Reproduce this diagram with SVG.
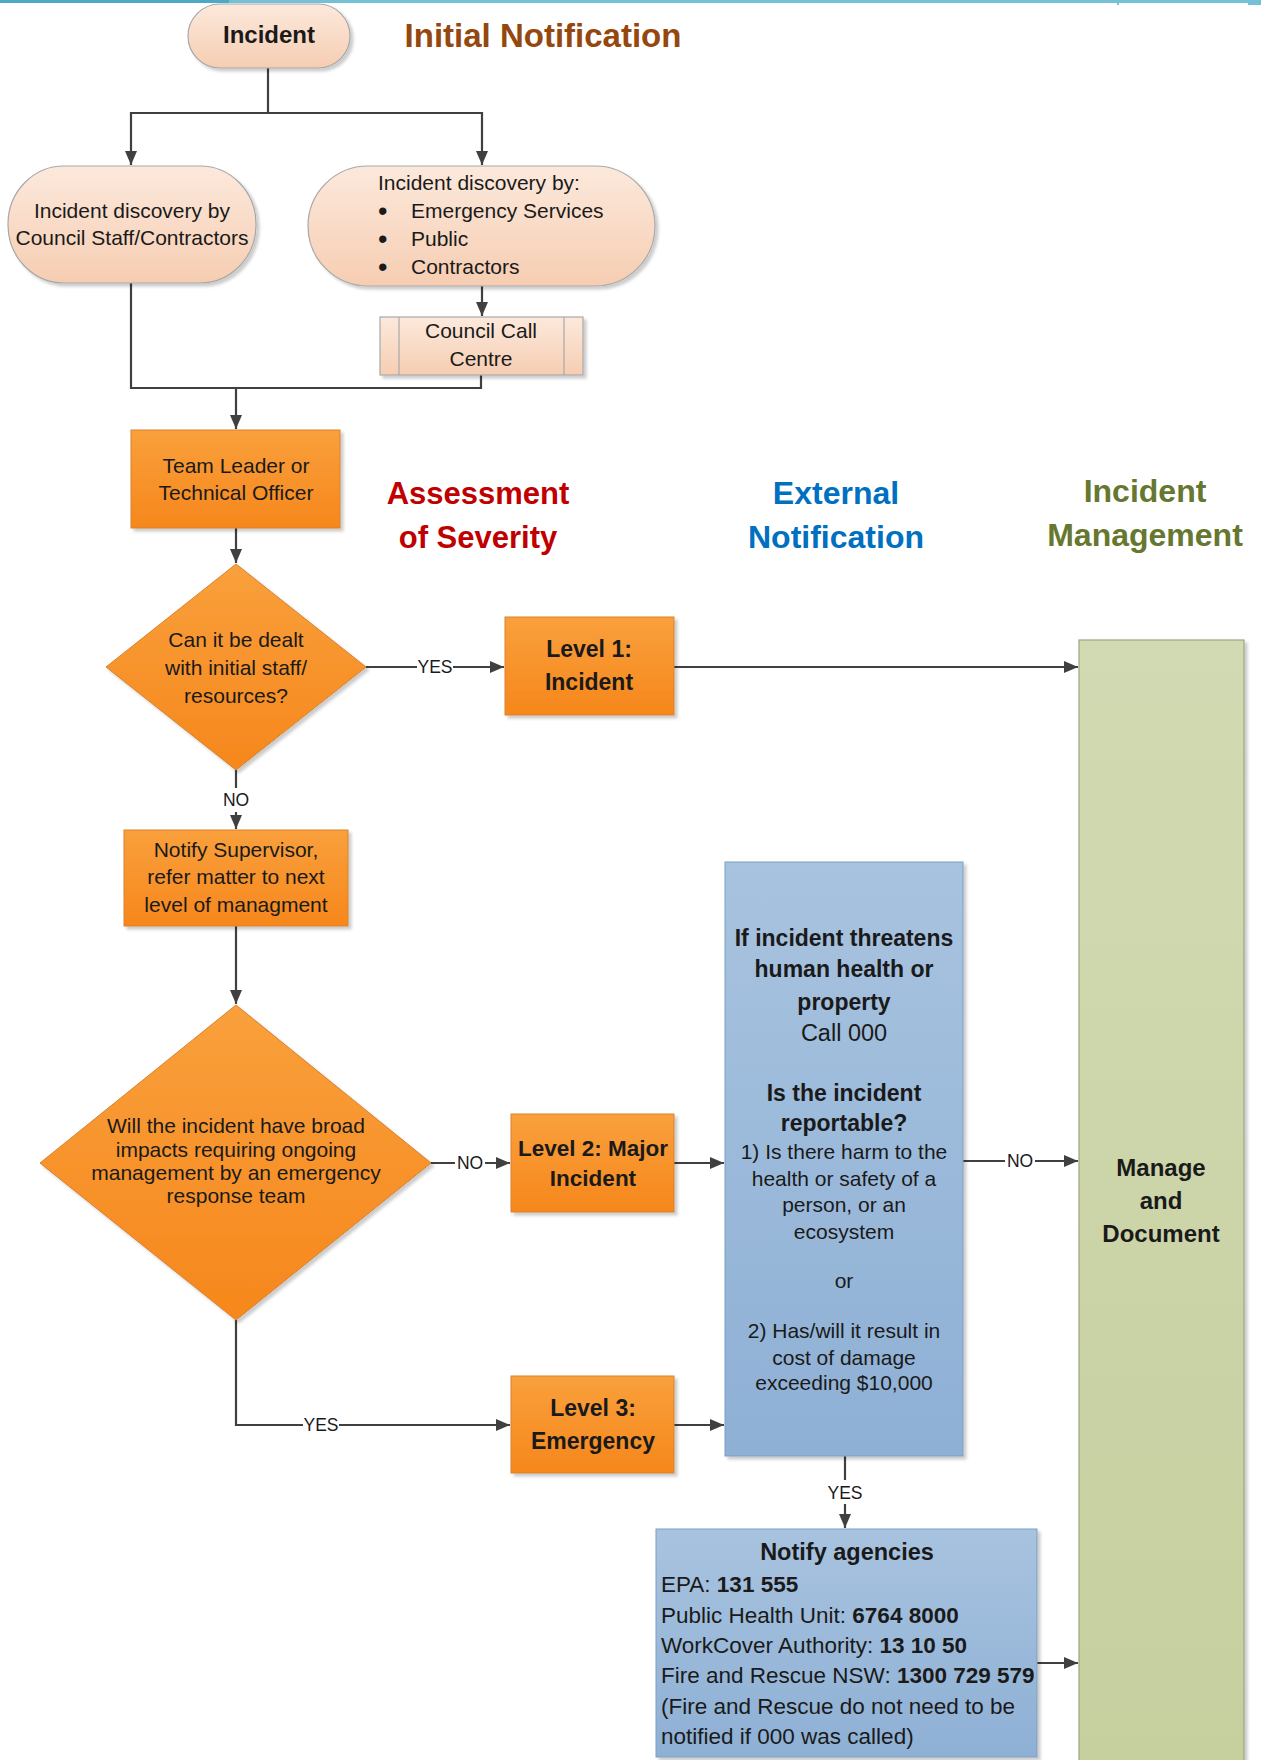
<svg xmlns="http://www.w3.org/2000/svg" width="1261" height="1760" viewBox="0 0 1261 1760">
<defs>
<style>
.t{font-family:"Liberation Sans",Arial,sans-serif;fill:#1a1a1a;font-size:21px}
.c{text-anchor:middle}
.b{font-weight:bold}
.bul{font-size:27px}
.h{font-family:"Liberation Sans",Arial,sans-serif;font-weight:bold;font-size:32px;text-anchor:middle}
.ln{fill:none;stroke:#404040;stroke-width:2.2}
.arr{marker-end:url(#ah)}
.lbl{font-family:"Liberation Sans",Arial,sans-serif;font-size:17.5px;fill:#1a1a1a;text-anchor:middle}
.orange{fill:url(#gOrange);stroke:#d8812e;stroke-width:1}
.peach{fill:url(#gPeach);stroke:#a8a8a8;stroke-width:1.2}
.sh{filter:url(#shadow)}
</style>
<linearGradient id="gOrange" x1="0" y1="0" x2="0" y2="1">
<stop offset="0" stop-color="#F9A03C"/><stop offset="1" stop-color="#F6871C"/>
</linearGradient>
<linearGradient id="gPeach" x1="0" y1="0" x2="0" y2="1">
<stop offset="0" stop-color="#FCE9DC"/><stop offset="1" stop-color="#F6CDB2"/>
</linearGradient>
<linearGradient id="gBlue" x1="0" y1="0" x2="0" y2="1">
<stop offset="0" stop-color="#A8C3DF"/><stop offset="1" stop-color="#8EB0D5"/>
</linearGradient>
<linearGradient id="gGreen" x1="0" y1="0" x2="0" y2="1">
<stop offset="0" stop-color="#D2DAB3"/><stop offset="1" stop-color="#C6CF9E"/>
</linearGradient>
<filter id="shadow" x="-10%" y="-10%" width="125%" height="125%">
<feDropShadow dx="3" dy="3" stdDeviation="1.5" flood-color="#000" flood-opacity="0.2"/>
</filter>
<marker id="ah" markerUnits="userSpaceOnUse" markerWidth="14" markerHeight="12" refX="14" refY="6" orient="auto">
<path d="M0,0 L14,6 L0,12 z" fill="#404040"/>
</marker>
</defs>
<rect width="1261" height="1760" fill="#ffffff"/>

<g id="topline">
<rect x="0" y="0" width="1261" height="3" fill="#74c1d6"/>
<rect x="0" y="0" width="229" height="3" fill="#4ea9c6"/>
<rect x="1117" y="0" width="2" height="5" fill="#74c1d6"/>
<rect x="1248" y="0" width="13" height="5" fill="#74c1d6"/>
</g>

<g id="headings">
<text class="h" x="543" y="47" fill="#94480F" style="font-size:33px">Initial Notification</text>
<text class="h" x="478" y="504" fill="#C00000" style="font-size:31px">Assessment</text>
<text class="h" x="478" y="548" fill="#C00000" style="font-size:31px">of Severity</text>
<text class="h" x="836" y="504" fill="#0070C0">External</text>
<text class="h" x="836" y="548" fill="#0070C0">Notification</text>
<text class="h" x="1145" y="502" fill="#66772F">Incident</text>
<text class="h" x="1145" y="546" fill="#66772F">Management</text>
</g>

<g id="connectors">
<path class="ln arr" d="M268,68 V113 H131 V165"/>
<path class="ln arr" d="M268,113 H482 V165"/>
<path class="ln arr" d="M482,286 V316"/>
<path class="ln arr" d="M131,283 V388 H236 V429"/>
<path class="ln" d="M481,375 V388 H236"/>
<path class="ln arr" d="M236,528 V563"/>
<path class="ln arr" d="M366,667 H504"/>
<path class="ln arr" d="M674,667 H1078"/>
<path class="ln arr" d="M236,770 V829"/>
<path class="ln arr" d="M236,926 V1004"/>
<path class="ln arr" d="M431,1163 H510"/>
<path class="ln arr" d="M236,1320 V1425 H510"/>
<path class="ln arr" d="M674,1163 H724"/>
<path class="ln arr" d="M674,1425 H724"/>
<path class="ln arr" d="M963,1161 H1078"/>
<path class="ln arr" d="M845,1456 V1528"/>
<path class="ln arr" d="M1037,1663 H1078"/>
<rect x="417" y="655" width="36" height="24" fill="#fff"/>
<text class="lbl" x="435" y="673">YES</text>
<rect x="223" y="788" width="28" height="24" fill="#fff"/>
<text class="lbl" x="236" y="806">NO</text>
<rect x="455" y="1151" width="30" height="24" fill="#fff"/>
<text class="lbl" x="470" y="1169">NO</text>
<rect x="303" y="1413" width="36" height="24" fill="#fff"/>
<text class="lbl" x="321" y="1431">YES</text>
<rect x="1005" y="1149" width="30" height="24" fill="#fff"/>
<text class="lbl" x="1020" y="1167">NO</text>
<rect x="827" y="1480" width="36" height="24" fill="#fff"/>
<text class="lbl" x="845" y="1499">YES</text>
</g>

<g id="incident">
<rect class="peach sh" x="188" y="4" width="162" height="64" rx="32" ry="32"/>
<text class="t c b" x="269" y="43" style="font-size:24px">Incident</text>
</g>

<g id="discovery-council">
<rect class="peach sh" x="8" y="166" width="248" height="117" rx="56" ry="58"/>
<text class="t c" x="132" y="218">Incident discovery by</text>
<text class="t c" x="132" y="245">Council Staff/Contractors</text>
</g>

<g id="discovery-external">
<rect class="peach sh" x="308" y="166" width="347" height="120" rx="60" ry="60"/>
<text class="t" x="378" y="190">Incident discovery by:</text>
<text class="t bul" x="378" y="220">•</text>
<text class="t" x="411" y="218">Emergency Services</text>
<text class="t bul" x="378" y="248">•</text>
<text class="t" x="411" y="246">Public</text>
<text class="t bul" x="378" y="276">•</text>
<text class="t" x="411" y="274">Contractors</text>
</g>

<g id="call-centre">
<rect class="peach sh" x="380" y="317" width="203" height="58"/>
<line x1="399" y1="317" x2="399" y2="375" stroke="#a8a8a8" stroke-width="1.2"/>
<line x1="564" y1="317" x2="564" y2="375" stroke="#a8a8a8" stroke-width="1.2"/>
<text class="t c" x="481" y="338">Council Call</text>
<text class="t c" x="481" y="366">Centre</text>
</g>

<g id="team-leader">
<rect class="orange sh" x="131" y="430" width="209" height="98"/>
<text class="t c" x="236" y="473">Team Leader or</text>
<text class="t c" x="236" y="500">Technical Officer</text>
</g>

<g id="decision-1">
<polygon class="orange sh" points="236,564 366,667 236,770 106,667"/>
<text class="t c" x="236" y="647">Can it be dealt</text>
<text class="t c" x="236" y="675">with initial staff/</text>
<text class="t c" x="236" y="703">resources?</text>
</g>

<g id="level-1">
<rect class="orange sh" x="505" y="617" width="169" height="98"/>
<text class="t c b" x="589" y="657" style="font-size:23px">Level 1:</text>
<text class="t c b" x="589" y="690" style="font-size:23px">Incident</text>
</g>

<g id="notify-supervisor">
<rect class="orange sh" x="124" y="830" width="224" height="96"/>
<text class="t c" x="236" y="857">Notify Supervisor,</text>
<text class="t c" x="236" y="884">refer matter to next</text>
<text class="t c" x="236" y="912">level of managment</text>
</g>

<g id="decision-2">
<polygon class="orange sh" points="236,1005 431,1163 236,1320 40,1163"/>
<text class="t c" x="236" y="1133">Will the incident have broad</text>
<text class="t c" x="236" y="1157">impacts requiring ongoing</text>
<text class="t c" x="236" y="1180">management by an emergency</text>
<text class="t c" x="236" y="1203">response team</text>
</g>

<g id="level-2">
<rect class="orange sh" x="511" y="1114" width="163" height="98"/>
<text class="t c b" x="593" y="1156" style="font-size:22.5px">Level 2: Major</text>
<text class="t c b" x="593" y="1186" style="font-size:22.5px">Incident</text>
</g>

<g id="level-3">
<rect class="orange sh" x="511" y="1376" width="163" height="97"/>
<text class="t c b" x="593" y="1416" style="font-size:23px">Level 3:</text>
<text class="t c b" x="593" y="1449" style="font-size:23px">Emergency</text>
</g>

<g id="reportable">
<rect class="sh" x="725" y="862" width="238" height="594" fill="url(#gBlue)" stroke="#7f9dbf" stroke-width="1"/>
<text class="t c b" x="844" y="946" style="font-size:23px">If incident threatens</text>
<text class="t c b" x="844" y="977" style="font-size:23px">human health or</text>
<text class="t c b" x="844" y="1010" style="font-size:23px">property</text>
<text class="t c" x="844" y="1041" style="font-size:23.5px">Call 000</text>
<text class="t c b" x="844" y="1101" style="font-size:23px">Is the incident</text>
<text class="t c b" x="844" y="1131" style="font-size:23px">reportable?</text>
<text class="t c" x="844" y="1159">1) Is there harm to the</text>
<text class="t c" x="844" y="1186">health or safety of a</text>
<text class="t c" x="844" y="1212">person, or an</text>
<text class="t c" x="844" y="1239">ecosystem</text>
<text class="t c" x="844" y="1288">or</text>
<text class="t c" x="844" y="1338">2) Has/will it result in</text>
<text class="t c" x="844" y="1365">cost of damage</text>
<text class="t c" x="844" y="1390">exceeding $10,000</text>
</g>

<g id="notify-agencies">
<rect class="sh" x="656" y="1529" width="381" height="228" fill="url(#gBlue)" stroke="#7f9dbf" stroke-width="1"/>
<text class="t c b" x="847" y="1560" style="font-size:23.5px">Notify agencies</text>
<text class="t" x="661" y="1592" style="font-size:22.5px">EPA: <tspan class="b">131 555</tspan></text>
<text class="t" x="661" y="1623" style="font-size:22.5px">Public Health Unit: <tspan class="b">6764 8000</tspan></text>
<text class="t" x="661" y="1653" style="font-size:22.5px">WorkCover Authority: <tspan class="b">13 10 50</tspan></text>
<text class="t" x="661" y="1683" style="font-size:22.5px">Fire and Rescue NSW: <tspan class="b">1300 729 579</tspan></text>
<text class="t" x="661" y="1714" style="font-size:22.5px">(Fire and Rescue do not need to be</text>
<text class="t" x="661" y="1744" style="font-size:22.5px">notified if 000 was called)</text>
</g>

<g id="manage-document">
<rect class="sh" x="1079" y="640" width="165" height="1130" fill="url(#gGreen)" stroke="#9aa582" stroke-width="1.2"/>
<text class="t c b" x="1161" y="1176" style="font-size:24px">Manage</text>
<text class="t c b" x="1161" y="1209" style="font-size:24px">and</text>
<text class="t c b" x="1161" y="1242" style="font-size:24px">Document</text>
</g>
</svg>
